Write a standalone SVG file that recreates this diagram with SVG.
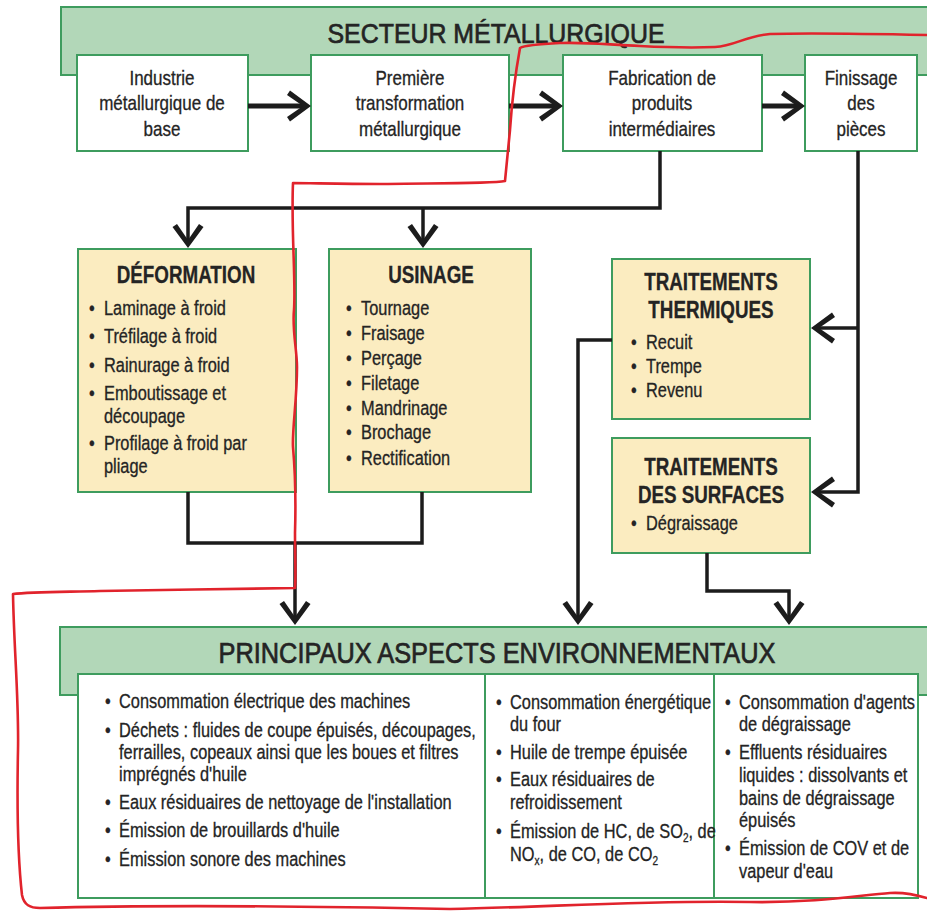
<svg xmlns="http://www.w3.org/2000/svg" width="927" height="911" viewBox="0 0 927 911">
  <style>
    text { font-family: "Liberation Sans", Arial, sans-serif; fill: #242424; stroke: #242424; stroke-width: 0.3; }
    .banner { fill: #b2d7b8; stroke: #3e9c5e; stroke-width: 2; }
    .white { fill: #ffffff; stroke: #3e9c5e; stroke-width: 2; }
    .yellow { fill: #fbecc0; stroke: #3e9c5e; stroke-width: 2; }
    .h1 { font-size: 28px; text-anchor: middle; stroke-width: 0.7; }
    .lbl { font-size: 20px; text-anchor: middle; transform-box: fill-box; transform-origin: center; transform: scaleX(0.85); }
    .ttl { font-size: 23.5px; font-weight: bold; text-anchor: middle; transform-box: fill-box; transform-origin: center; transform: scaleX(0.8); }
    .it text, .bt text { font-size: 19.5px; transform-box: fill-box; transform-origin: left center; transform: scaleX(0.84); }
    .sub { font-size: 12px; }
    .wire { fill: none; stroke: #1c1c1c; stroke-width: 3.5; marker-end: url(#head); }
    .plain { fill: none; stroke: #1c1c1c; stroke-width: 3.5; }
    .flow { fill: none; stroke: #1c1c1c; stroke-width: 5; marker-end: url(#head); }
    .pen { fill: none; stroke: #e1232c; stroke-width: 2.6; stroke-linecap: round; stroke-linejoin: round; }
  </style>
  <defs>
    <marker id="head" markerUnits="userSpaceOnUse" markerWidth="40" markerHeight="40" refX="-4" refY="0" orient="auto" overflow="visible">
      <polygon points="0,0 -21,-15.5 -24,-11 -8,0 -24,11 -21,15.5" fill="#1c1c1c"/>
    </marker>
  </defs>

  <rect width="927" height="911" fill="#ffffff"/>

  <!-- upper band: sector -->
  <g id="secteur">
    <rect class="banner" x="61" y="7" width="880" height="68"/>
    <text class="h1" x="496" y="43" textLength="337" lengthAdjust="spacingAndGlyphs">SECTEUR MÉTALLURGIQUE</text>
  </g>

  <g id="industrie">
    <rect class="white" x="77" y="55" width="171" height="96"/>
    <text class="lbl" x="162" y="85">Industrie</text>
    <text class="lbl" x="162" y="110">métallurgique de</text>
    <text class="lbl" x="162" y="136">base</text>
  </g>
  <g id="premiere">
    <rect class="white" x="311" y="55" width="198" height="96"/>
    <text class="lbl" x="410" y="85">Première</text>
    <text class="lbl" x="410" y="110">transformation</text>
    <text class="lbl" x="410" y="136">métallurgique</text>
  </g>
  <g id="fabrication">
    <rect class="white" x="563" y="55" width="199" height="96"/>
    <text class="lbl" x="662" y="85">Fabrication de</text>
    <text class="lbl" x="662" y="110">produits</text>
    <text class="lbl" x="662" y="136">intermédiaires</text>
  </g>
  <g id="finissage">
    <rect class="white" x="805" y="55" width="112" height="96"/>
    <text class="lbl" x="861" y="85">Finissage</text>
    <text class="lbl" x="861" y="110">des</text>
    <text class="lbl" x="861" y="136">pièces</text>
  </g>

  <!-- process families -->
  <g id="deformation">
    <rect class="yellow" x="78" y="249" width="218" height="243"/>
    <text class="ttl" x="186" y="283">DÉFORMATION</text>
    <g class="it">
      <text x="89" y="315">•</text><text x="104" y="315">Laminage à froid</text>
      <text x="89" y="343">•</text><text x="104" y="343">Tréfilage à froid</text>
      <text x="89" y="372">•</text><text x="104" y="372">Rainurage à froid</text>
      <text x="89" y="400">•</text><text x="104" y="400">Emboutissage et</text>
      <text x="104" y="423">découpage</text>
      <text x="89" y="450">•</text><text x="104" y="450">Profilage à froid par</text>
      <text x="104" y="473">pliage</text>
    </g>
  </g>
  <g id="usinage">
    <rect class="yellow" x="329" y="249" width="202" height="243"/>
    <text class="ttl" x="431" y="283">USINAGE</text>
    <g class="it">
      <text x="346" y="315">•</text><text x="361" y="315">Tournage</text>
      <text x="346" y="340">•</text><text x="361" y="340">Fraisage</text>
      <text x="346" y="365">•</text><text x="361" y="365">Perçage</text>
      <text x="346" y="390">•</text><text x="361" y="390">Filetage</text>
      <text x="346" y="415">•</text><text x="361" y="415">Mandrinage</text>
      <text x="346" y="439">•</text><text x="361" y="439">Brochage</text>
      <text x="346" y="465">•</text><text x="361" y="465">Rectification</text>
    </g>
  </g>
  <g id="thermiques">
    <rect class="yellow" x="612" y="259" width="198" height="160"/>
    <text class="ttl" x="711" y="290">TRAITEMENTS</text>
    <text class="ttl" x="711" y="318">THERMIQUES</text>
    <g class="it">
      <text x="631" y="349">•</text><text x="646" y="349">Recuit</text>
      <text x="631" y="373">•</text><text x="646" y="373">Trempe</text>
      <text x="631" y="397">•</text><text x="646" y="397">Revenu</text>
    </g>
  </g>
  <g id="surfaces">
    <rect class="yellow" x="612" y="438" width="198" height="115"/>
    <text class="ttl" x="711" y="475">TRAITEMENTS</text>
    <text class="ttl" x="711" y="503">DES SURFACES</text>
    <g class="it">
      <text x="631" y="530">•</text><text x="646" y="530">Dégraissage</text>
    </g>
  </g>

  <!-- lower band: environmental aspects -->
  <g id="aspects">
    <rect class="banner" x="60" y="627" width="880" height="68"/>
    <text class="h1" x="497" y="663" style="font-size:29px" textLength="557" lengthAdjust="spacingAndGlyphs">PRINCIPAUX ASPECTS ENVIRONNEMENTAUX</text>
    <rect class="white" x="78" y="674" width="840" height="224"/>
    <line x1="485" y1="674" x2="485" y2="898" stroke="#3e9c5e" stroke-width="2"/>
    <line x1="714" y1="674" x2="714" y2="898" stroke="#3e9c5e" stroke-width="2"/>
    <g class="bt">
      <text x="105" y="708">•</text><text x="119" y="708">Consommation électrique des machines</text>
      <text x="105" y="737">•</text><text x="119" y="737">Déchets : fluides de coupe épuisés, découpages,</text>
      <text x="119" y="759">ferrailles, copeaux ainsi que les boues et filtres</text>
      <text x="119" y="781">imprégnés d'huile</text>
      <text x="105" y="809">•</text><text x="119" y="809">Eaux résiduaires de nettoyage de l'installation</text>
      <text x="105" y="837">•</text><text x="119" y="837">Émission de brouillards d'huile</text>
      <text x="105" y="866">•</text><text x="119" y="866">Émission sonore des machines</text>

      <text x="496" y="709">•</text><text x="510" y="709">Consommation énergétique</text>
      <text x="510" y="731">du four</text>
      <text x="496" y="759">•</text><text x="510" y="759">Huile de trempe épuisée</text>
      <text x="496" y="786">•</text><text x="510" y="786">Eaux résiduaires de</text>
      <text x="510" y="809">refroidissement</text>
      <text x="496" y="838">•</text><text x="510" y="838">Émission de HC, de SO<tspan class="sub" dy="4">2</tspan><tspan dy="-4">, de</tspan></text>
      <text x="510" y="861">NO<tspan class="sub" dy="4">x</tspan><tspan dy="-4">, de CO, de CO</tspan><tspan class="sub" dy="4">2</tspan></text>

      <text x="725" y="709">•</text><text x="739" y="709">Consommation d'agents</text>
      <text x="739" y="731">de dégraissage</text>
      <text x="725" y="759">•</text><text x="739" y="759">Effluents résiduaires</text>
      <text x="739" y="782">liquides : dissolvants et</text>
      <text x="739" y="805">bains de dégraissage</text>
      <text x="739" y="827">épuisés</text>
      <text x="725" y="855">•</text><text x="739" y="855">Émission de COV et de</text>
      <text x="739" y="878">vapeur d'eau</text>
    </g>
  </g>

  <!-- connectors -->
  <g id="connectors">
    <path class="flow" d="M248,106 H307"/>
    <path class="flow" d="M509,106 H559"/>
    <path class="flow" d="M762,106 H801"/>
    <path class="wire" d="M660,151 V208 H188 V244"/>
    <path class="wire" d="M423,208 V244"/>
    <path class="wire" d="M858,151 V492 H815"/>
    <path class="wire" d="M858,328 H815"/>
    <path class="plain" d="M188,492 V543 H422 V492"/>
    <path class="wire" d="M295,543 V621"/>
    <path class="wire" d="M612,340 H578 V621"/>
    <path class="wire" d="M707,553 V591 H789 V621"/>
  </g>

  <!-- hand-drawn red outline -->
  <path class="pen" d="M927,35 C880,34 800,33 770,34 C745,36 735,46 715,47 C690,48 660,47 640,46 C610,45 590,42 560,43 C540,44 525,45 520,48 C516,70 512,100 510,130 C508,150 506,170 505,181 C490,184 420,183 380,184 C340,184 310,183 293,183 C291,230 296,280 294,310 C292,330 297,350 297,367 C297,400 292,430 293,447 C295,470 296,500 295,533 C295,560 296,575 295,588 C250,589 150,590 100,591 C60,592 30,592 13,594 C14,650 19,700 18,750 C17,800 18,860 22,895 C24,905 30,908 40,908 C150,905 300,906 450,909 C550,907 650,900 750,902 C820,903 860,895 890,893 C905,892 917,895 927,898"/>
</svg>
